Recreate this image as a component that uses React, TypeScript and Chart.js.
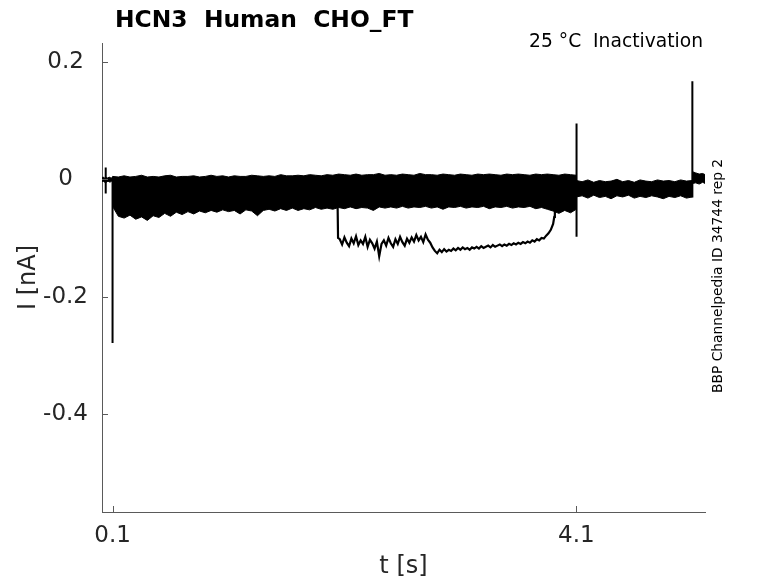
import React, { useEffect, useRef } from "react";
import { Chart, registerables } from "chart.js";

Chart.register(...registerables);

// ---- data (time in s, current in nA) ----
const bandTimes = [
  0.009, 0.02, 0.03, 0.04, 0.05, 0.06, 0.07, 0.08, 0.09, 0.1,
  0.1, 0.15, 0.2, 0.25, 0.3, 0.35, 0.4, 0.45, 0.5, 0.55, 0.6, 0.65, 0.7, 0.75, 0.8, 0.85, 0.9, 0.95,
  1.0, 1.05, 1.1, 1.15, 1.2, 1.25, 1.3, 1.35, 1.4, 1.45, 1.5, 1.55, 1.6, 1.65, 1.7, 1.75, 1.8, 1.85, 1.9, 1.95,
  2.0, 2.05, 2.1, 2.15, 2.2, 2.25, 2.3, 2.35, 2.4, 2.45, 2.5, 2.55, 2.6, 2.65, 2.7, 2.75, 2.8, 2.85, 2.9, 2.95,
  3.0, 3.05, 3.1, 3.15, 3.2, 3.25, 3.3, 3.35, 3.4, 3.45, 3.5, 3.55, 3.6, 3.65, 3.7, 3.75, 3.8, 3.85, 3.9, 3.95,
  4.0, 4.05, 4.1,
  4.1, 4.15, 4.2, 4.25, 4.3, 4.35, 4.4, 4.45, 4.5, 4.55, 4.6, 4.65, 4.7, 4.75, 4.8, 4.85, 4.9, 4.95, 5.0, 5.05, 5.1,
  5.102, 5.13, 5.16, 5.19, 5.21,
];

const bandUpper = [
  0.003, 0.004, 0.002, 0.004, 0.003, 0.002, 0.004, 0.003, 0.002, 0.003,
  0.005, 0.004, 0.006, 0.004, 0.005, 0.007, 0.004, 0.005, 0.004, 0.006, 0.007, 0.004, 0.005, 0.005, 0.006, 0.004, 0.005, 0.007,
  0.005, 0.006, 0.004, 0.006, 0.005, 0.005, 0.007, 0.006, 0.005, 0.006, 0.005, 0.008, 0.006, 0.006, 0.007, 0.006, 0.008, 0.007, 0.006, 0.008,
  0.007, 0.009, 0.008, 0.007, 0.009, 0.007, 0.008, 0.008, 0.010, 0.007, 0.008, 0.007, 0.009, 0.008, 0.007, 0.010, 0.008, 0.008, 0.007, 0.009,
  0.008, 0.007, 0.009, 0.008, 0.007, 0.009, 0.008, 0.009, 0.008, 0.007, 0.009, 0.008, 0.009, 0.008, 0.007, 0.009, 0.008, 0.009, 0.008, 0.007,
  0.009, 0.008, 0.007,
  -0.002, -0.004, -0.001, -0.005, -0.002, -0.004, -0.003, 0.0, -0.004, -0.002, -0.005, -0.001, -0.003, -0.004, -0.001, -0.003, -0.002, -0.004, -0.001, -0.003, -0.002,
  0.013, 0.011, 0.009, 0.010, 0.008,
];

const bandLower = [
  -0.004, -0.003, -0.005, -0.004, -0.005, -0.003, -0.004, -0.005, -0.003, -0.004,
  -0.046, -0.063, -0.066, -0.061, -0.068, -0.064, -0.070, -0.062, -0.065, -0.058, -0.063, -0.056, -0.060, -0.055, -0.059, -0.054, -0.057, -0.053,
  -0.056, -0.052, -0.055, -0.053, -0.059, -0.052, -0.054, -0.062, -0.053, -0.051, -0.054, -0.050, -0.053, -0.049, -0.053, -0.050, -0.052, -0.048, -0.051, -0.049,
  -0.051, -0.048, -0.050, -0.047, -0.050, -0.048, -0.049, -0.053, -0.047, -0.049, -0.047, -0.049, -0.046, -0.049, -0.047, -0.048, -0.046, -0.049, -0.047, -0.051,
  -0.047, -0.048, -0.046, -0.049, -0.047, -0.048, -0.046, -0.050, -0.047, -0.048, -0.046, -0.049, -0.047, -0.048, -0.046, -0.050, -0.048, -0.051, -0.054, -0.058,
  -0.053, -0.057, -0.051,
  -0.030, -0.028, -0.032, -0.027, -0.031, -0.029, -0.033, -0.028, -0.030, -0.027, -0.032, -0.029, -0.031, -0.028, -0.030, -0.033, -0.029, -0.031, -0.028, -0.032, -0.030,
  -0.007, -0.006, -0.008, -0.005, -0.007,
];

const sweepTimes = [
  2.041, 2.045,
  2.06, 2.08, 2.1, 2.12, 2.14, 2.16, 2.18, 2.2, 2.22, 2.24,
  2.26, 2.28, 2.3, 2.32, 2.34, 2.36, 2.38, 2.4, 2.42, 2.44,
  2.46, 2.48, 2.5, 2.52, 2.54, 2.56, 2.58, 2.6, 2.62, 2.64,
  2.66, 2.68, 2.7, 2.72, 2.74, 2.76, 2.78, 2.8, 2.82, 2.84,
  2.86, 2.88, 2.9, 2.92, 2.94, 2.96, 2.98, 3.0, 3.02, 3.04,
  3.06, 3.08, 3.1, 3.12, 3.14, 3.16, 3.18, 3.2, 3.22, 3.24,
  3.26, 3.28, 3.3, 3.32, 3.34, 3.36, 3.38, 3.4, 3.42, 3.44,
  3.46, 3.48, 3.5, 3.52, 3.54, 3.56, 3.58, 3.6, 3.62, 3.64,
  3.66, 3.68, 3.7, 3.72, 3.74, 3.76, 3.78, 3.8, 3.82, 3.84,
  3.86, 3.88, 3.9,
  3.91, 3.915, 3.92,
];

const sweepValues = [
  -0.042, -0.100,
  -0.102, -0.111, -0.099, -0.108, -0.114, -0.101, -0.109, -0.097, -0.112, -0.104,
  -0.110, -0.098, -0.115, -0.103, -0.109, -0.118, -0.106, -0.131, -0.110, -0.104,
  -0.113, -0.100, -0.109, -0.115, -0.102, -0.110, -0.098, -0.107, -0.113, -0.101,
  -0.108, -0.099, -0.106, -0.095, -0.104, -0.098, -0.107, -0.094, -0.103, -0.108,
  -0.116, -0.122, -0.126, -0.120, -0.124, -0.119, -0.123, -0.120, -0.122, -0.118,
  -0.121, -0.117, -0.120, -0.116, -0.119, -0.117, -0.120, -0.116, -0.118, -0.115,
  -0.118, -0.114, -0.117, -0.115, -0.113, -0.116, -0.112, -0.115, -0.113, -0.111,
  -0.114, -0.111, -0.113, -0.110, -0.112, -0.109, -0.111, -0.108, -0.110, -0.107,
  -0.109, -0.106, -0.108, -0.104, -0.106, -0.102, -0.104, -0.100, -0.101, -0.096,
  -0.092, -0.086, -0.076,
  -0.064, -0.055, -0.042,
];

// transient spikes (null separates them)
const spikeTimes = [0.041, 0.041, 0.041, 0.1, 0.1, 0.1, 4.102, 4.102, 4.102, 5.101, 5.101];
const spikeValues = [0.02, -0.024, null, 0.004, -0.279, null, 0.095, -0.098, null, 0.167, -0.031];

const xTicks = [0.1, 4.1];
const xTickLabels = ["0.1", "4.1"];
const yTicks = [-0.4, -0.2, 0, 0.2];
const yTickLabels = ["-0.4", "-0.2", "0", "0.2"];

const titleText = "HCN3  Human  CHO_FT";
const subtitleText = "25 \u00B0C  Inactivation";
const sideText = "BBP Channelpedia ID 34744 rep 2";

const FONT = '"DejaVu Sans", sans-serif';
const AXIS = "#5a5a5a";
const TXT = "#262626";

const toPoints = (xs: number[], ys: (number | null)[]) => xs.map((x, i) => ({ x, y: ys[i] }));

const decorPlugin = {
  id: "decor",
  afterDraw(chart: any) {
    const { ctx, chartArea, scales } = chart;
    ctx.save();
    ctx.strokeStyle = AXIS;
    ctx.lineWidth = 1;
    ctx.beginPath();
    for (const v of xTicks) {
      const px = Math.round(scales.x.getPixelForValue(v)) + 0.5;
      ctx.moveTo(px, chartArea.bottom);
      ctx.lineTo(px, chartArea.bottom - 6);
    }
    for (const v of yTicks) {
      const py = Math.round(scales.y.getPixelForValue(v)) + 0.5;
      ctx.moveTo(chartArea.left, py);
      ctx.lineTo(chartArea.left + 6, py);
    }
    ctx.stroke();

    ctx.fillStyle = "#000";
    ctx.textBaseline = "alphabetic";
    ctx.textAlign = "left";
    ctx.font = `bold 23.4px ${FONT}`;
    ctx.fillText(titleText, 115, 27);

    ctx.textAlign = "right";
    ctx.font = `18.7px ${FONT}`;
    ctx.fillText(subtitleText, 703, 47);

    ctx.translate(722, 393);
    ctx.rotate(-Math.PI / 2);
    ctx.textAlign = "left";
    ctx.font = `13.8px ${FONT}`;
    ctx.fillText(sideText, 0, 0);
    ctx.restore();
  },
};

export default function App() {
  const ref = useRef<HTMLCanvasElement | null>(null);

  useEffect(() => {
    if (!ref.current) return;
    const chart = new Chart(ref.current, {
      type: "line",
      data: {
        datasets: [
          {
            data: toPoints(bandTimes, bandUpper),
            borderColor: "#000",
            backgroundColor: "#000",
            borderWidth: 1,
            pointRadius: 0,
            fill: "+1",
            tension: 0,
          },
          {
            data: toPoints(bandTimes, bandLower),
            borderColor: "#000",
            borderWidth: 1,
            pointRadius: 0,
            fill: false,
            tension: 0,
          },
          {
            data: toPoints(sweepTimes, sweepValues),
            borderColor: "#000",
            borderWidth: 2.2,
            pointRadius: 0,
            fill: false,
            tension: 0,
          },
          {
            data: toPoints(spikeTimes, spikeValues),
            borderColor: "#000",
            borderWidth: 2,
            pointRadius: 0,
            fill: false,
            spanGaps: false,
            tension: 0,
          },
        ],
      },
      options: {
        animation: false,
        responsive: false,
        devicePixelRatio: 1,
        layout: { padding: { left: 0, right: 73, top: 43, bottom: 0 } },
        plugins: {
          legend: { display: false },
          tooltip: { enabled: false },
          title: { display: false },
        },
        scales: {
          x: {
            type: "linear",
            min: 0.009,
            max: 5.21,
            afterFit: (s: any) => {
              s.height = 71;
            },
            afterBuildTicks: (s: any) => {
              s.ticks = xTicks.map((v) => ({ value: v }));
            },
            ticks: {
              padding: 10,
              color: TXT,
              font: { family: FONT, size: 23 },
              maxRotation: 0,
              autoSkip: false,
              callback: (v: any) => {
                const i = xTicks.indexOf(Number(v));
                return i >= 0 ? xTickLabels[i] : "";
              },
            },
            grid: { display: true, drawOnChartArea: false, drawTicks: false, color: "rgba(0,0,0,0)" },
            border: { display: true, color: AXIS, width: 1 },
            title: {
              display: true,
              text: "t [s]",
              color: TXT,
              font: { family: FONT, size: 24 },
              padding: { top: 0, bottom: 2 },
            },
          },
          y: {
            type: "linear",
            min: -0.567,
            max: 0.2324,
            afterFit: (s: any) => {
              s.width = 102;
            },
            afterBuildTicks: (s: any) => {
              s.ticks = yTicks.map((v) => ({ value: v }));
            },
            ticks: {
              padding: 14,
              crossAlign: "center",
              color: TXT,
              font: { family: FONT, size: 23 },
              autoSkip: false,
              callback: (v: any) => {
                const i = yTicks.findIndex((t) => Math.abs(t - Number(v)) < 1e-9);
                return i >= 0 ? yTickLabels[i] : "";
              },
            },
            grid: { display: true, drawOnChartArea: false, drawTicks: false, color: "rgba(0,0,0,0)" },
            border: { display: true, color: AXIS, width: 1 },
            title: {
              display: true,
              text: "I [nA]",
              color: TXT,
              font: { family: FONT, size: 24 },
              padding: { top: 14, bottom: 0 },
            },
          },
        },
      },
      plugins: [decorPlugin],
    });
    return () => chart.destroy();
  }, []);

  return (
    <div style={{ position: "absolute", left: 0, top: 0, width: 778, height: 583, background: "#fff" }}>
      <canvas ref={ref} width={778} height={583} style={{ width: 778, height: 583 }} />
    </div>
  );
}
